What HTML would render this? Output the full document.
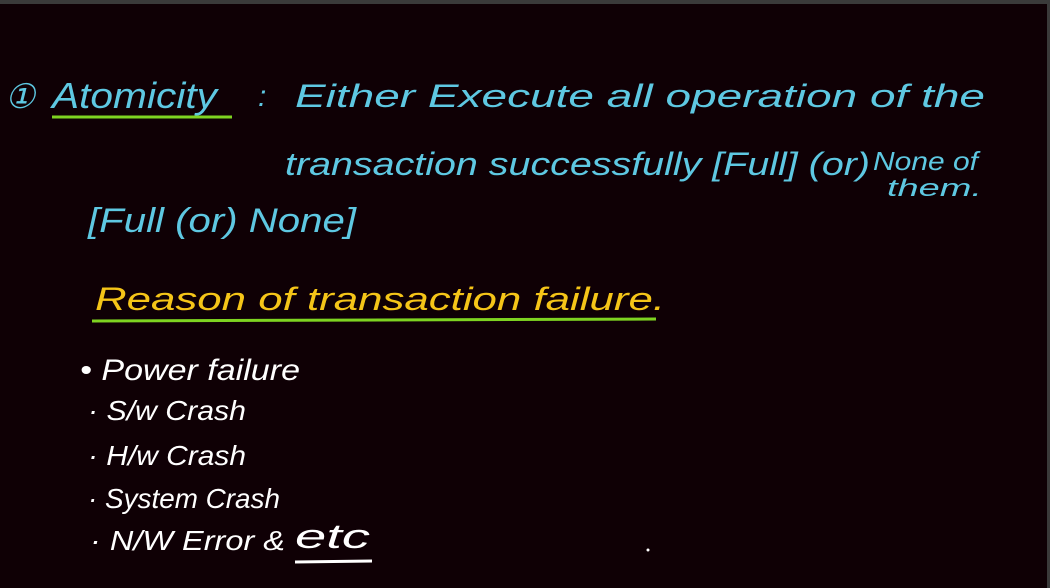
<!DOCTYPE html>
<html><head><meta charset="utf-8"><style>
html,body{margin:0;padding:0;background:#0f0005;width:1050px;height:588px;overflow:hidden}
svg{display:block}
text{font-family:"Liberation Sans",sans-serif;font-style:italic}
</style></head><body>
<svg width="1050" height="588" viewBox="0 0 1050 588">
<rect x="0" y="0" width="1050" height="588" fill="#0f0005"/>
<rect x="0" y="0" width="1050" height="4" fill="#3a3a3a"/>
<rect x="1047" y="0" width="3" height="588" fill="#3a3a3a"/>
<g fill="#5ec8e2">
<text x="5" y="108" font-size="34" textLength="30" lengthAdjust="spacingAndGlyphs">①</text>
<text x="52" y="108" font-size="36" textLength="165" lengthAdjust="spacingAndGlyphs">Atomicity</text>
<text x="258" y="106" font-size="30">:</text>
<text x="295" y="107" font-size="32" textLength="690" lengthAdjust="spacingAndGlyphs">Either   Execute   all  operation  of  the</text>
<text x="285" y="175" font-size="32" textLength="585" lengthAdjust="spacingAndGlyphs">transaction  successfully  [Full]  (or)</text>
<text x="873" y="170" font-size="26" textLength="105" lengthAdjust="spacingAndGlyphs">None of</text>
<text x="887" y="196" font-size="24" textLength="95" lengthAdjust="spacingAndGlyphs">them.</text>
<text x="88" y="232" font-size="34" textLength="268" lengthAdjust="spacingAndGlyphs">[Full  (or)  None]</text>
</g>
<line x1="52" y1="117" x2="232" y2="117" stroke="#7ed321" stroke-width="3"/>
<text x="95" y="310" font-size="32" fill="#f5c518" textLength="570" lengthAdjust="spacingAndGlyphs">Reason   of  transaction  failure.</text>
<line x1="92" y1="321" x2="656" y2="319" stroke="#7ed321" stroke-width="3"/>
<g fill="#ffffff">
<text x="80" y="380" font-size="30" textLength="220" lengthAdjust="spacingAndGlyphs">• Power failure</text>
<text x="88" y="420" font-size="28" textLength="158" lengthAdjust="spacingAndGlyphs">· S/w Crash</text>
<text x="88" y="465" font-size="28" textLength="158" lengthAdjust="spacingAndGlyphs">· H/w Crash</text>
<text x="88" y="508" font-size="28" textLength="192" lengthAdjust="spacingAndGlyphs">· System Crash</text>
<text x="90" y="550" font-size="28" textLength="195" lengthAdjust="spacingAndGlyphs">· N/W Error &amp;</text>
<text x="295" y="548" font-size="34" textLength="75" lengthAdjust="spacingAndGlyphs">etc</text>
<circle cx="648" cy="550" r="1.5"/>
</g>
<line x1="295" y1="562" x2="372" y2="561" stroke="#fff" stroke-width="3"/>
</svg>
</body></html>
